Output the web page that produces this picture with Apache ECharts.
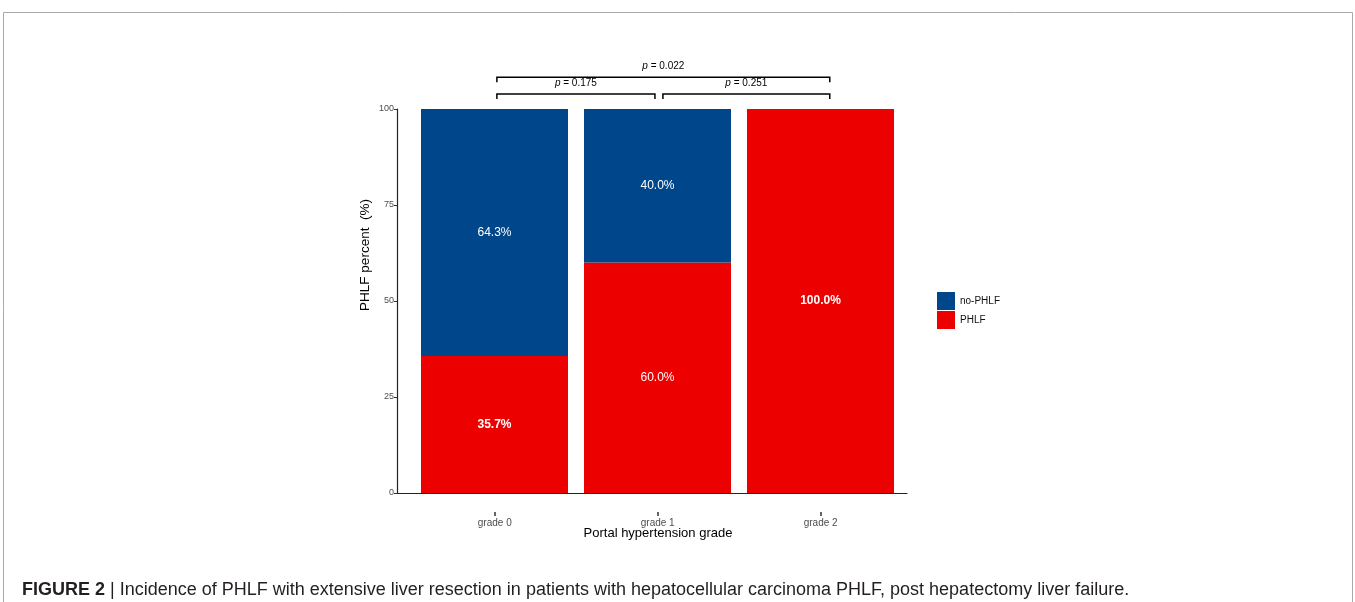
<!DOCTYPE html>
<html>
<head>
<meta charset="utf-8">
<script src="https://cdn.jsdelivr.net/npm/echarts@6/dist/echarts.min.js"></script>
<style>
html,body{margin:0;padding:0;background:#fff;}
#main{width:1355px;height:602px;}
</style>
</head>
<body>
<div id="main"></div>
<script>
// categories and percentages
var grades = ['grade 0', 'grade 1', 'grade 2'];
var gradePos = [1, 2, 3];
var phlf = [35.7, 60.0, 100.0];
var noPhlf = [64.3, 40.0, 0];
var yTicks = [0, 25, 50, 75, 100];
// significance brackets (x in category units, y in percent units)
var compFrom = [1.013, 1.013, 2.032];
var compTo = [3.056, 1.983, 3.056];
var compY = [108.3, 103.9, 103.9];
var compP = ['0.022', '0.175', '0.251'];
var boldIdx = {phlf: [0, 2], noPhlf: []};

var blue = '#00468B', red = '#ED0000';
var font = 'Liberation Sans, Arial, sans-serif';

function mkData(vals, key) {
  return vals.map(function (v, i) {
    var d = {value: v};
    if (boldIdx[key].indexOf(i) > -1) d.label = {fontWeight: 'bold'};
    return d;
  });
}
function lbl(p) { return p.value > 0 ? p.value.toFixed(1) + '%' : ''; }

var myChart = echarts.init(document.getElementById('main'));
var option = {
  animation: false,
  grid: [
    {left: 397, top: 109, right: 448, bottom: 109},   // axes frame
    {left: 413, top: 109, right: 453, bottom: 109}    // bars
  ],
  legend: {
    orient: 'vertical', left: 937, top: 292, padding: 0,
    itemWidth: 18, itemHeight: 18, itemGap: 1, icon: 'rect',
    data: ['no-PHLF', 'PHLF'],
    textStyle: {fontSize: 10, color: '#111', fontFamily: font}
  },
  xAxis: [{
    gridIndex: 0, type: 'value', min: 0.4, max: 3.53,
    axisLine: {show: true, lineStyle: {color: '#222', width: 1.2}},
    axisTick: {show: false}, axisLabel: {show: false}, splitLine: {show: false}
  }, {
    gridIndex: 0, type: 'value', min: 0.4, max: 3.53, position: 'bottom', offset: 19,
    axisLine: {show: false},
    axisTick: {show: true, length: 4, customValues: gradePos, lineStyle: {color: '#333', width: 1.5}},
    axisLabel: {
      show: true, customValues: gradePos, margin: 6, fontSize: 10, color: '#4d4d4d', fontFamily: font,
      formatter: function (v) { return grades[Math.round(v) - 1]; }
    },
    splitLine: {show: false}
  }, {
    gridIndex: 1, type: 'category', data: grades, show: false
  }],
  yAxis: [{
    gridIndex: 0, type: 'value', min: 0, max: 100, interval: 25,
    axisLine: {show: true, lineStyle: {color: '#222', width: 1.2}},
    axisTick: {show: true, length: 3, lineStyle: {color: '#333'}},
    axisLabel: {margin: 3, fontSize: 9, color: '#4d4d4d', fontFamily: font,
      customValues: yTicks},
    splitLine: {show: false}
  }, {
    gridIndex: 1, type: 'value', min: 0, max: 100, show: false
  }],
  series: [{
    name: 'PHLF', type: 'bar', stack: 'a', barWidth: 147,
    xAxisIndex: 2, yAxisIndex: 1,
    itemStyle: {color: red},
    label: {show: true, position: 'inside', color: '#fff', fontSize: 12, fontFamily: font, formatter: lbl},
    data: mkData(phlf, 'phlf')
  }, {
    name: 'no-PHLF', type: 'bar', stack: 'a', barWidth: 147,
    xAxisIndex: 2, yAxisIndex: 1,
    itemStyle: {color: blue},
    label: {show: true, position: 'inside', color: '#fff', fontSize: 12, fontFamily: font, formatter: lbl},
    data: mkData(noPhlf, 'noPhlf')
  }]
};
myChart.setOption(option);

var g = [];
// figure frame
g.push({type: 'rect', shape: {x: 3.5, y: 12.5, width: 1349, height: 700},
  style: {fill: 'none', stroke: '#aaa', lineWidth: 1}, silent: true});
// axis titles
g.push({type: 'text', x: 365, y: 255, rotation: Math.PI / 2,
  style: {text: 'PHLF percent  (%)', font: '13.5px ' + font, fill: '#000',
    align: 'center', verticalAlign: 'middle'}});
g.push({type: 'text', x: 658, y: 533,
  style: {text: 'Portal hypertension grade', font: '13px ' + font, fill: '#000',
    align: 'center', verticalAlign: 'middle'}});
// brackets
for (var i = 0; i < compP.length; i++) {
  var a = myChart.convertToPixel({xAxisIndex: 0, yAxisIndex: 0}, [compFrom[i], compY[i]]);
  var b = myChart.convertToPixel({xAxisIndex: 0, yAxisIndex: 0}, [compTo[i], compY[i]]);
  g.push({type: 'polyline', shape: {points: [[a[0], a[1] + 5], [a[0], a[1]], [b[0], b[1]], [b[0], b[1] + 5]]},
    style: {stroke: '#000', lineWidth: 1.5, fill: 'none'}});
  g.push({type: 'text', x: (a[0] + b[0]) / 2, y: a[1] - 11,
    style: {text: '{i|p} = ' + compP[i], font: '10px ' + font, fill: '#000',
      align: 'center', verticalAlign: 'middle',
      rich: {i: {fontStyle: 'italic', fontSize: 10, fontFamily: font}}}});
}
// caption
g.push({type: 'text', x: 22, y: 590,
  style: {text: '{b|FIGURE 2} | Incidence of PHLF with extensive liver resection in patients with hepatocellular carcinoma PHLF, post hepatectomy liver failure.',
    font: '18px ' + font, fill: '#231f20', verticalAlign: 'middle',
    rich: {b: {fontWeight: 'bold', fontSize: 18, fontFamily: font, fill: '#231f20'}}}});
myChart.setOption({graphic: g});
</script>
</body>
</html>
